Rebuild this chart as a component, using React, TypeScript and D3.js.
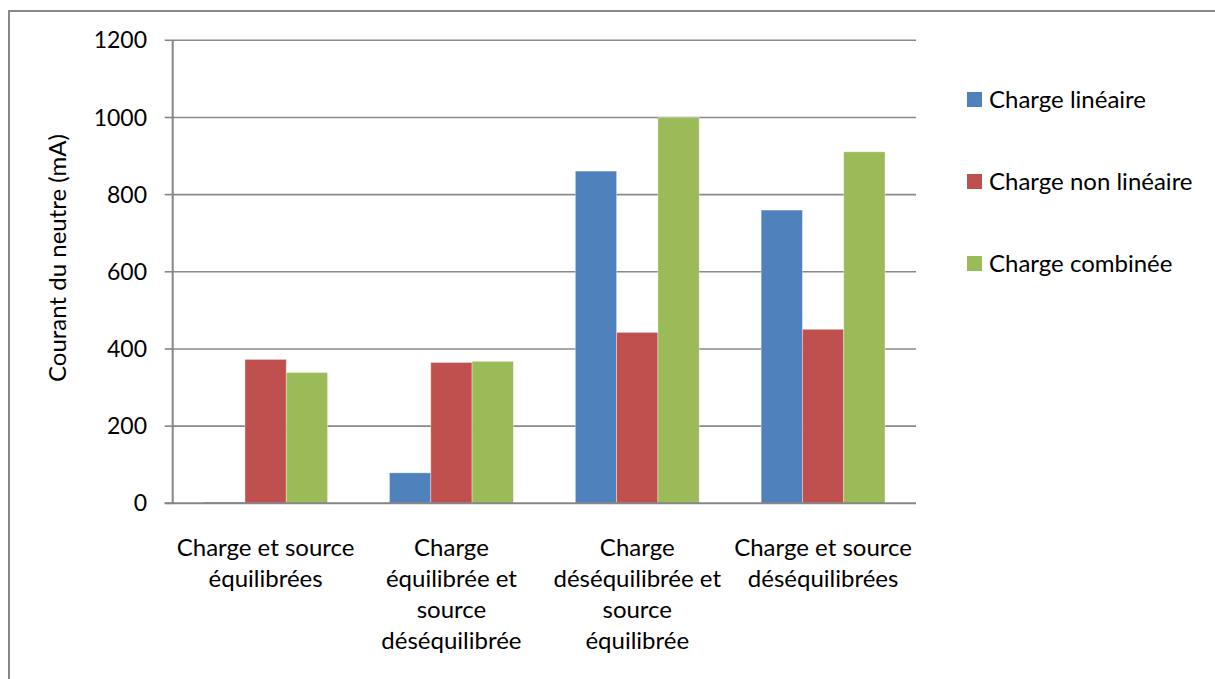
import React from "react";
import * as d3 from "d3";

const categories = [
  "Charge et source équilibrées",
  "Charge équilibrée et source déséquilibrée",
  "Charge déséquilibrée et source équilibrée",
  "Charge et source déséquilibrées",
];
const categoryLines = [
  ["Charge et source", "équilibrées"],
  ["Charge", "équilibrée et", "source", "déséquilibrée"],
  ["Charge", "déséquilibrée et", "source", "équilibrée"],
  ["Charge et source", "déséquilibrées"],
];
const seriesNames = ["Charge linéaire", "Charge non linéaire", "Charge combinée"];
const lineaire = [3, 79, 861, 760];
const nonLineaire = [373, 365, 443, 451];
const combinee = [339, 368, 1000, 911];
const yTicks = [0, 200, 400, 600, 800, 1000, 1200];
const colors = ["#4F81BD", "#C0504D", "#9BBB59"];

export default function App() {
  const W = 1215, H = 679;
  const left = 172.7, right = 916, top = 40.3, bottom = 503.3;
  const font = "Lato, 'Open Sans', sans-serif";
  const series = [lineaire, nonLineaire, combinee];

  const x0 = d3.scaleBand<string>().domain(categories).range([left, right]).paddingInner(0).paddingOuter(0);
  const x1 = d3.scaleBand<number>().domain([0, 1, 2]).range([0, x0.bandwidth()]).paddingInner(0).paddingOuter(0.75);
  const y = d3.scaleLinear().domain([0, 1200]).range([bottom, top]);

  return (
    <svg width={W} height={H} style={{ position: "absolute", left: 0, top: 0, background: "#fff" }} fontFamily={font}>
      <rect x={9} y={11} width={W + 20} height={H + 20} fill="#fff" stroke="#888" strokeWidth={2} />
      {yTicks.map((t) => (
        <g key={t}>
          {t > 0 && <line x1={left} x2={right} y1={y(t)} y2={y(t)} stroke="#8a8a8a" strokeWidth={1.6} />}
          <line x1={left - 8} x2={left} y1={y(t)} y2={y(t)} stroke="#868686" strokeWidth={1.6} />
          <text x={147} y={y(t)} dy="0.35em" textAnchor="end" fontSize={23} fill="#000">{t}</text>
        </g>
      ))}
      {categories.map((c, ci) => (
        <g key={c} transform={`translate(${x0(c)},0)`}>
          {series.map((s, si) => (
            <rect key={si} x={x1(si)!} width={x1.bandwidth()} y={y(s[ci])} height={bottom - y(s[ci])}
              fill={colors[si]} stroke="#ffffff" strokeOpacity={0.45} strokeWidth={0.8} />
          ))}
        </g>
      ))}
      <line x1={left} x2={left} y1={top} y2={bottom} stroke="#868686" strokeWidth={2} />
      <line x1={left - 8} x2={right} y1={bottom} y2={bottom} stroke="#868686" strokeWidth={2} />
      {categories.map((c, ci) => (
        <text key={c} textAnchor="middle" fontSize={24} fill="#000">
          {categoryLines[ci].map((l, li) => (
            <tspan key={li} x={x0(c)! + x0.bandwidth() / 2} y={556 + li * 31}>{l}</tspan>
          ))}
        </text>
      ))}
      <text transform={`translate(66,258) rotate(-90)`} textAnchor="middle" fontSize={24} fill="#000">
        Courant du neutre (mA)
      </text>
      {seriesNames.map((n, i) => (
        <g key={n} transform={`translate(967,${99.5 + i * 82})`}>
          <rect x={0} y={-7.5} width={15} height={15} fill={colors[i]} />
          <text x={22} y={0} dy="0.35em" fontSize={24} fill="#000">{n}</text>
        </g>
      ))}
    </svg>
  );
}
